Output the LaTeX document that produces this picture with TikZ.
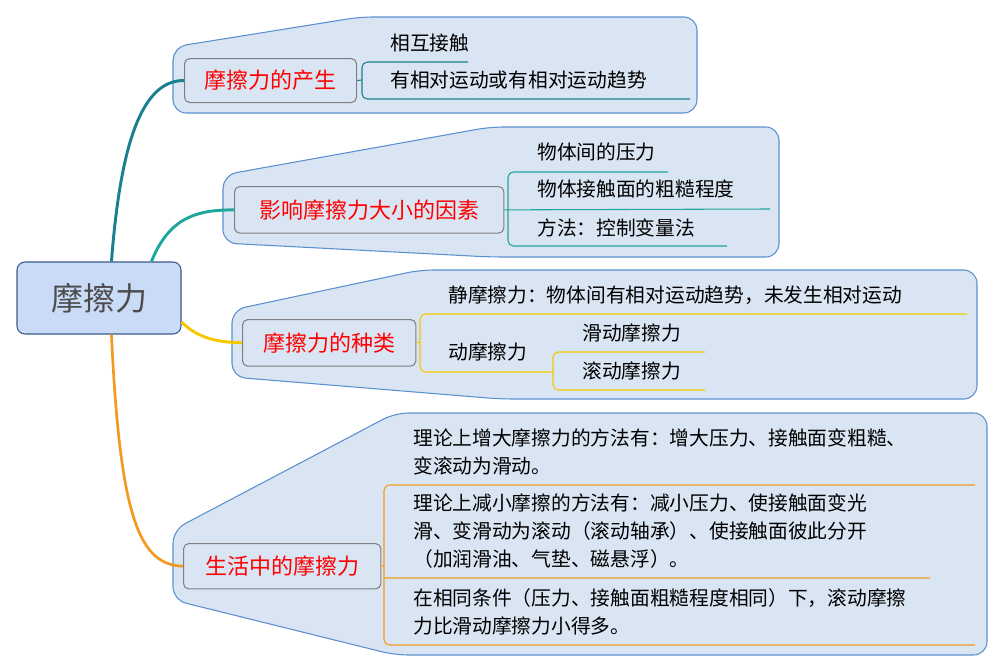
\documentclass[tikz,border=0pt]{standalone}
\usepackage{fontspec}
\setmainfont{Noto Sans CJK SC}
\definecolor{bgf}{HTML}{DAE5F3}
\definecolor{bgd}{HTML}{5B8FD0}
\definecolor{rootf}{HTML}{C9DBF7}
\definecolor{rootd}{HTML}{3B5A8C}
\definecolor{cA}{HTML}{1A7F8F}
\definecolor{cB}{HTML}{20A79A}
\definecolor{cC}{HTML}{F5C800}
\definecolor{cD}{HTML}{F39A1E}
\tikzset{x=0.75pt,y=-0.75pt,
 grp/.style={fill=bgf,draw=bgd,line width=0.8pt,rounded corners=10pt},
 cat/.style={draw=gray,rounded corners=4pt,line width=0.8pt,text=red,font=\fontsize{16.5}{20}\selectfont,inner sep=0pt,anchor=north west},
 txt/.style={anchor=west,font=\fontsize{14.8}{21}\selectfont,inner sep=0pt,align=left},
 br/.style={rounded corners=4pt,line width=0.8pt}}
\begin{document}
\begin{tikzpicture}
\useasboundingbox (0,0) rectangle (1003,671);
% groups
\draw[grp] (173,113) -- (173,47) -- (360,17) -- (697,17) -- (697,113) -- cycle;
\draw[grp] (223,243) -- (223,175) -- (490,127) -- (779,127) -- (779,257) -- (490,257) -- cycle;
\draw[grp] (232,377) -- (232,310) -- (420,270) -- (977,270) -- (977,399) -- (500,399) -- cycle;
\draw[grp] (173,600) -- (173,530) -- (395,413) -- (987,413) -- (987,655) -- (395,655) -- cycle;
% root
\node[draw=rootd,fill=rootf,rounded corners=6pt,line width=0.8pt,minimum width=123pt,minimum height=54pt,text=black!70,font=\fontsize{24}{28}\selectfont] (root) at (99,298) {摩擦力};
% categories
\node[cat,minimum width=129pt,minimum height=33pt] (c1) at (184,58) {摩擦力的产生};
\node[cat,minimum width=202pt,minimum height=35pt] (c2) at (234,186) {影响摩擦力大小的因素};
\node[cat,minimum width=130pt,minimum height=35pt] (c3) at (242,319) {摩擦力的种类};
\node[cat,minimum width=148pt,minimum height=34pt] (c4) at (183,543) {生活中的摩擦力};
% connectors
\draw[cA,line width=2.2pt] (root.north west) ++(95,0) .. controls (120,150) and (140,80) .. (c1.west);
\draw[cB,line width=2.2pt] (root.north west) ++(135,0) .. controls (170,215) and (200,210) .. (c2.west);
\draw[cC,line width=2.2pt] (root.east) ++(0,24) .. controls (200,340) and (220,342) .. (c3.west);
\draw[cD,line width=2pt] (root.south west) ++(95,0) .. controls (120,520) and (140,565) .. (c4.west);
% group 1
\draw[cA,br] (c1.east) -- (362,80) (468,62) -- (362,62) -- (362,99) -- (690,99);
\node[txt] (t11) at (390,43) {相互接触};
\node[txt] (t12) at (390,80) {有相对运动或有相对运动趋势};
% group 2
\draw[cB,br] (c2.east) -- (770,209) (668,172) -- (508,172) -- (508,246) -- (727,246);
\node[txt] (t21) at (537,152) {物体间的压力};
\node[txt] (t22) at (537,189) {物体接触面的粗糙程度};
\node[txt] (t23) at (537,228) {方法：控制变量法};
% group 3
\draw[cC,br] (c3.east) -- (420,342) (967,314) -- (420,314) -- (420,372) -- (553,372);
\draw[cC,br] (705,352) -- (553,352) -- (553,390) -- (705,390);
\node[txt] (t31) at (448,295) {静摩擦力：物体间有相对运动趋势，未发生相对运动};
\node[txt] (t32) at (448,352) {动摩擦力};
\node[txt] (t33) at (582,333) {滑动摩擦力};
\node[txt] (t34) at (582,371) {滚动摩擦力};
% group 4
\draw[cD,br] (c4.east) -- (384,565) (975,485) -- (384,485) -- (384,645) -- (975,645) (384,578) -- (930,578);
\node[txt] (t41) at (413,452) {理论上增大摩擦力的方法有：增大压力、接触面变粗糙、\\变滚动为滑动。};
\node[txt] (t42) at (413,531) {理论上减小摩擦的方法有：减小压力、使接触面变光\\滑、变滑动为滚动（滚动轴承）、使接触面彼此分开\\（加润滑油、气垫、磁悬浮）。};
\node[txt] (t43) at (413,612) {在相同条件（压力、接触面粗糙程度相同）下，滚动摩擦\\力比滑动摩擦力小得多。};
\end{tikzpicture}
\end{document}
